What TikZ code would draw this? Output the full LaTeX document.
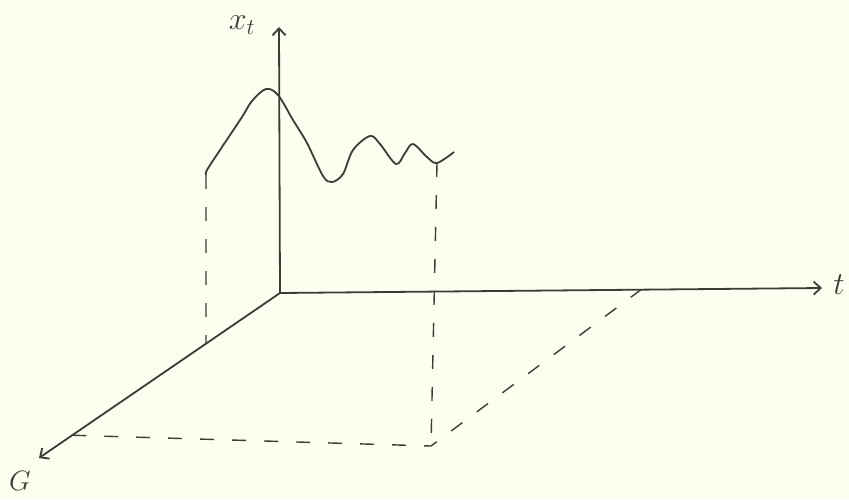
\RequirePackage{fix-cm}
\documentclass[tikz,border=0pt]{standalone}
\usepackage{tikz}
\usetikzlibrary{arrows.meta,calc}
\definecolor{paper}{HTML}{FDFEF0}
\definecolor{ink}{HTML}{3C3C34}

\begin{document}
\begin{tikzpicture}[x=1pt, y=-1pt,
    axis/.style={ink, line width=1.8pt, -{Straight Barb[length=7pt,width=13pt]}},
    guide/.style={ink, line width=1.4pt, dash pattern=on 14pt off 18pt},
    signal/.style={ink, line width=1.8pt, line join=round},
    lbl/.style={text=ink, font=\fontsize{32}{34}\selectfont, inner sep=0pt}]
    \fill[paper] (0,0) rectangle (849,499);
    \useasboundingbox (0,0) rectangle (849,499);

    % the three axes
    \coordinate (O) at (280,293);
    \coordinate (xtop) at (279,27);
    \coordinate (tend) at (822,288);
    \coordinate (Gend) at (39,458);
    \draw[axis] (O) -- (xtop);
    \draw[axis] (O) -- (tend);
    \draw[axis] (O) -- (Gend);
    \node[lbl] (xlab) at (242,25) {$x_t$};
    \node[lbl] (tlab) at (839,285) {$t$};
    \node[lbl, font=\fontsize{28}{30}\selectfont] (Glab) at (20,481) {$G$};

    % the path x_t
    \coordinate (ca) at (206,175);
    \coordinate (cb) at (437,163);
    \draw[signal] plot[smooth, tension=0.55] coordinates {(ca) (207,170) (220,150) (242,117) (252,101)
        (266,89) (278,95) (293,120) (307,143) (323,176) (332,182) (343,174) (353,150)
        (370,136) (380,144) (396,164) (405,153) (413,144) (427,157) (cb) (454,152)};

    % dashed guides
    \coordinate (gA) at ($(O)!0.307!(Gend)$);
    \coordinate (gB) at ($(O)!0.862!(Gend)$);
    \coordinate (tA) at ($(O)!0.666!(tend)$);
    \coordinate (base) at (431,446);
    \draw[guide] (ca) -- (gA);
    \draw[guide] (cb) -- (base);
    \draw[guide] (gB) -- (base) -- (tA);
\end{tikzpicture}
\end{document}
